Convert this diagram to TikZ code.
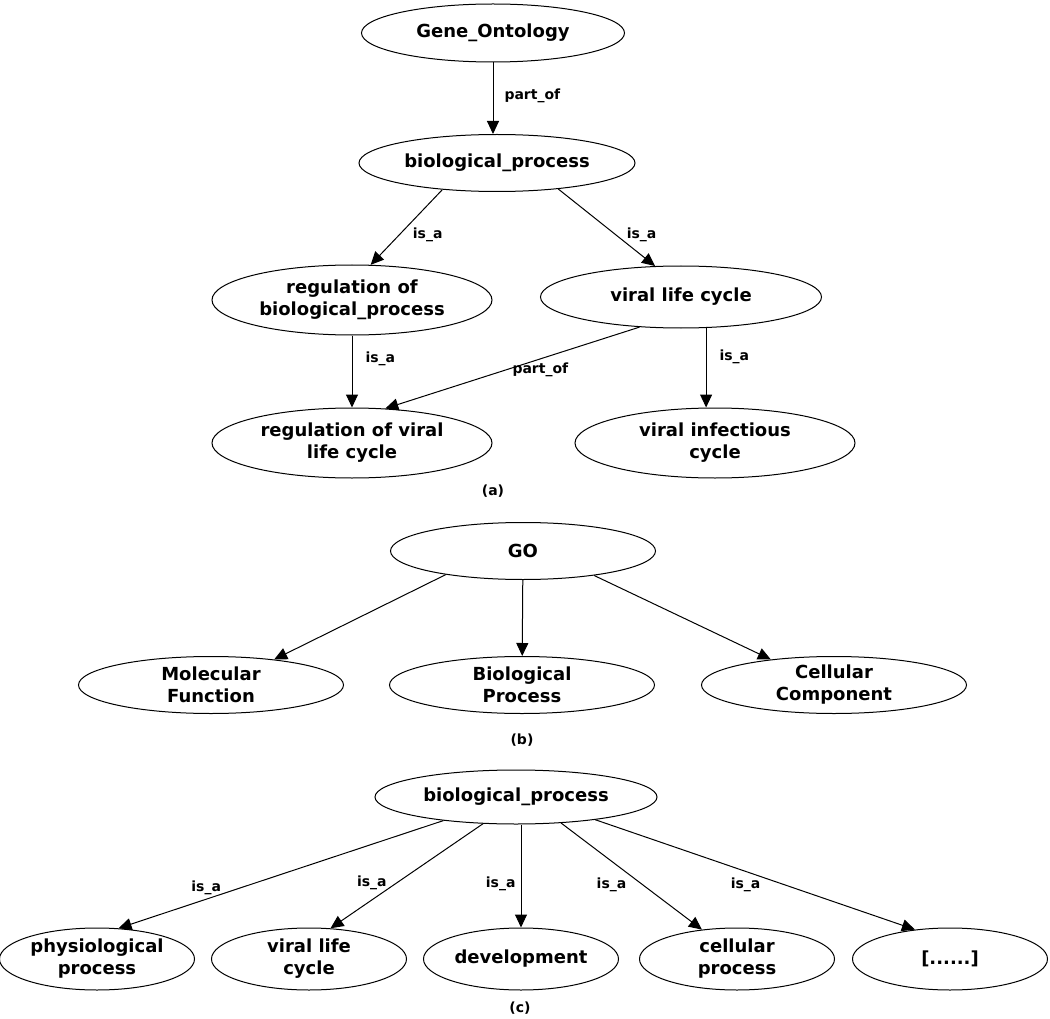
\documentclass[tikz,border=0pt]{standalone}
\usepackage{fontspec}
\setmainfont{DejaVu Sans}
\usetikzlibrary{arrows.meta,positioning,shapes.geometric}

\begin{document}
\begin{tikzpicture}[x=1pt,y=-1pt]
    \tikzset{oval/.style={ellipse,draw,line width=1pt,inner sep=0pt,minimum width=265pt,minimum height=57pt,
      align=center,font=\fontsize{18}{22}\selectfont\bfseries},
      rel/.style={-{Triangle[length=13pt,width=12pt]},line width=1pt},
      lbl/.style={font=\fontsize{14}{16}\selectfont\bfseries,inner sep=1pt},
      subcap/.style={font=\fontsize{14}{16}\selectfont\bfseries}}
    \useasboundingbox (0,0) rectangle (1050,1019);
    % (a)
    \node[oval,minimum width=263pt,minimum height=58pt] (go) at (493,33) {Gene\_Ontology};
    \node[oval,minimum width=276pt] (bp) at (497,163) {biological\_process};
    \node[oval,minimum width=280pt,minimum height=70pt] (rbp) at (352,300) {regulation of\\biological\_process};
    \node[oval,minimum width=281pt,minimum height=62pt] (vlc) at (681,297) {viral life cycle};
    \node[oval,minimum width=280pt,minimum height=70pt] (rv) at (352,443) {regulation of viral\\life cycle};
    \node[oval,minimum width=280pt,minimum height=70pt] (vic) at (715,443) {viral infectious\\cycle};
    \node[subcap] (capa) at (493,491) {(a)};
    \draw[rel] (go.south) -- (go.south |- bp.north) node[lbl,pos=.47,right=10pt] {part\_of};
    \draw[rel] (bp.206) -- (rbp.62) node[lbl,pos=.6,right=12pt] {is\_a};
    \draw[rel] (bp.337) -- (vlc.130) node[lbl,pos=.6,right=9pt] {is\_a};
    \draw[rel] (rbp) -- (rv) node[lbl,pos=.32,right=12pt] {is\_a};
    \draw[rel] (vlc.309) -- (vlc.309 |- vic.north) node[lbl,pos=.36,right=12pt] {is\_a};
    \draw[rel] (vlc.216) -- (rv.46) node[lbl,pos=.39,below=3pt] {part\_of};
    % (b)
    \node[oval] (gob) at (523,551) {GO};
    \node[oval] (mf) at (211,685) {Molecular\\Function};
    \node[oval] (bpb) at (522,685) {Biological\\Process};
    \node[oval] (cc) at (834,685) {Cellular\\Component};
    \node[subcap] (capb) at (522,740) {(b)};
    \draw[rel] (gob.197) -- (mf.22);
    \draw[rel] (gob) -- (bpb);
    \draw[rel] (gob.341) -- (cc.158);
    % (c)
    \node[oval,minimum width=282pt,minimum height=54pt] (bpc) at (516,797) {biological\_process};
    \tikzset{leaf/.style={oval,minimum width=195pt,minimum height=62pt}}
    \node[leaf] (phy) at (97,959) {physiological\\process};
    \node[leaf] (vlcc) at (309,959) {viral life\\cycle};
    \node[leaf] (dev) at (521,959) {development};
    \node[leaf] (cel) at (737,959) {cellular\\process};
    \node[leaf] (more) at (950,959) {[......]};
    \node[subcap] (capc) at (520,1008) {(c)};
    \draw[rel] (bpc.198) -- (phy.55) node[lbl,pos=.73,above=3pt] {is\_a};
    \draw[rel] (bpc.219) -- (vlcc.55) node[lbl,pos=.57,left=8pt] {is\_a};
    \draw[rel] (bpc.south -| dev.north) -- (dev.north) node[lbl,pos=.58,left=4pt] {is\_a};
    \draw[rel] (bpc.330) -- (cel.140) node[lbl,pos=.58,left=15pt] {is\_a};
    \draw[rel] (bpc.344) -- (more.140) node[lbl,pos=.47,below=5pt] {is\_a};
\end{tikzpicture}
\end{document}
